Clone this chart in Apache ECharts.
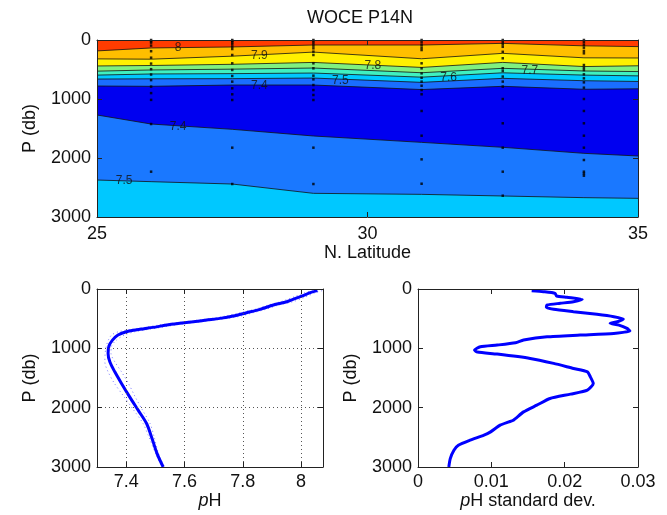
<!DOCTYPE html>
<html><head><meta charset="utf-8">
<script src="https://cdn.jsdelivr.net/npm/echarts@6/dist/echarts.min.js"></script>
<style>html,body{margin:0;padding:0;background:#fff}#c{width:667px;height:515px}</style>
</head><body><div id="c"></div><script>
// ---------- DATA ----------
const titleText = 'WOCE P14N';
// Section: contour boundaries (pressure, db) at latitudes
const boundaryLats = [25, 26, 27.5, 29, 31, 32.5, 34, 35];
const iso80 = [185, 135, 118, 85, 85, 57, 99, 112];
const iso79 = [320, 325, 274, 205, 318, 226, 302, 305];
const iso78 = [440, 432, 412, 380, 465, 380, 450, 437];
const iso77 = [528, 508, 494, 475, 555, 480, 525, 535];
const iso76 = [595, 576, 570, 560, 630, 556, 595, 608];
const iso75 = [662, 658, 655, 645, 718, 650, 690, 703];
const iso74 = [780, 785, 763, 763, 840, 785, 835, 827];
const iso74deep = [1271, 1424, 1514, 1627, 1735, 1819, 1921, 1966];
const iso75deep = [2373, 2401, 2441, 2599, 2616, 2644, 2672, 2684];
// contour labels: [lat, pressure, text]
const contourLabels = [
  [26.5, 124, '8'], [28.0, 271, '7.9'], [30.1, 441, '7.8'], [33.0, 520, '7.7'],
  [31.5, 639, '7.6'], [29.5, 690, '7.5'], [28.0, 780, '7.4'],
  [26.5, 1470, '7.4'], [25.5, 2390, '7.5']
];
// Station sample positions
const stationLats = [26, 27.5, 29, 31, 32.5, 34];
const stationDepths = [
  [0, 20, 45, 95, 190, 300, 400, 495, 585, 680, 790, 900, 1015, 1424, 2232],
  [0, 17, 40, 73, 113, 153, 254, 395, 508, 610, 706, 819, 920, 1017, 1825, 2441],
  [0, 17, 56, 96, 141, 198, 254, 395, 480, 605, 667, 763, 848, 932, 1017, 1825, 2441],
  [0, 40, 85, 130, 170, 395, 480, 565, 640, 706, 775, 848, 920, 1203, 1622, 2023, 2436],
  [0, 40, 75, 115, 200, 310, 480, 525, 620, 705, 790, 1000, 1412, 1825, 2232, 2639],
  [0, 40, 85, 130, 186, 226, 424, 470, 510, 582, 650, 718, 808, 1000, 1203, 1412, 1622, 1825, 2034, 2232, 2265, 2300]
];
// Mean pH profile
const phDepth = [28, 62, 130, 214, 270, 343, 400, 456, 495, 523, 552, 579, 608, 647, 680, 721, 776, 861, 962, 1085, 1227, 1396, 1592, 1818, 2042, 2267, 2493, 2774, 3000];
const phMean = [8.056, 8.031, 7.997, 7.951, 7.905, 7.859, 7.813, 7.767, 7.722, 7.676, 7.630, 7.584, 7.539, 7.492, 7.447, 7.401, 7.372, 7.353, 7.341, 7.338, 7.344, 7.361, 7.384, 7.412, 7.441, 7.470, 7.487, 7.506, 7.527];
const phLow = [8.040, 8.013, 7.977, 7.930, 7.887, 7.841, 7.791, 7.741, 7.694, 7.649, 7.603, 7.558, 7.512, 7.464, 7.418, 7.373, 7.350, 7.339, 7.332, 7.328, 7.327, 7.338, 7.360, 7.393, 7.426, 7.458, 7.478, 7.501, 7.523];
const phHigh = [8.072, 8.049, 8.017, 7.972, 7.923, 7.878, 7.835, 7.793, 7.750, 7.703, 7.657, 7.610, 7.566, 7.520, 7.476, 7.429, 7.394, 7.367, 7.350, 7.348, 7.361, 7.384, 7.408, 7.431, 7.456, 7.482, 7.496, 7.511, 7.531];
// pH standard deviation profile
const sdDepth = [28, 45, 73, 118, 140, 174, 214, 241, 270, 309, 343, 383, 427, 467, 506, 552, 579, 608, 664, 709, 748, 776, 805, 861, 906, 945, 974, 1030, 1063, 1097, 1170, 1254, 1339, 1396, 1480, 1592, 1705, 1772, 1845, 1958, 2071, 2211, 2239, 2295, 2408, 2464, 2548, 2633, 2717, 2858, 3000];
const sdVal = [0.0155, 0.0171, 0.0187, 0.0189, 0.0203, 0.0224, 0.0212, 0.0194, 0.0176, 0.0175, 0.0185, 0.0212, 0.0244, 0.0267, 0.0280, 0.0272, 0.0262, 0.0274, 0.0285, 0.0289, 0.0267, 0.0221, 0.0176, 0.0144, 0.0133, 0.0108, 0.0085, 0.0077, 0.0081, 0.0108, 0.0153, 0.0185, 0.0212, 0.0231, 0.0235, 0.0239, 0.0231, 0.0208, 0.0180, 0.0162, 0.0144, 0.0130, 0.0124, 0.0112, 0.0099, 0.0090, 0.0071, 0.0055, 0.0049, 0.0044, 0.0042];
// Tick values
const latTicks = [25, 30, 35];
const pTicks = [0, 1000, 2000, 3000];
const phTicks = [7.4, 7.6, 7.8, 8];
const sdTicks = [0, 0.01, 0.02, 0.03];

// ---------- STYLE ----------
const FONT = '"Liberation Sans", Arial, Helvetica, sans-serif';
const FS = 18;
const AX = '#222';
const isoList = [iso80, iso79, iso78, iso77, iso76, iso75, iso74, iso74deep, iso75deep];
const layerColors = ['#ffbf00', '#fff000', '#80f080', '#40f0c0', '#00c8ff', '#1a6eff', '#0000f0', '#1a78ff', '#00c8ff'];
const topColor = '#ff3c00';
const plain = function (v) { return String(v); };

function mkX(grid, min, max, interval, opts) {
  const base = {
    gridIndex: grid, type: 'value', min: min, max: max, z: 10,
    axisLine: {show: true, onZero: false, lineStyle: {color: AX, width: 1}},
    axisTick: {show: true, inside: true, length: 5, lineStyle: {color: AX}},
    axisLabel: {show: true, color: '#111', fontSize: FS, fontFamily: FONT, margin: 8, formatter: plain},
    splitLine: {show: false}
  };
  if (interval) base.interval = interval;
  return Object.assign(base, opts || {});
}
function mkY(grid, opts) {
  return Object.assign({
    gridIndex: grid, type: 'value', inverse: true, min: 0, max: 3000, interval: 1000, z: 10,
    axisLine: {show: true, onZero: false, lineStyle: {color: AX, width: 1}},
    axisTick: {show: true, inside: true, length: 5, lineStyle: {color: AX}},
    axisLabel: {show: true, color: '#111', fontSize: FS, fontFamily: FONT, margin: 6, formatter: plain},
    splitLine: {show: false},
    name: 'P (db)', nameLocation: 'middle', nameGap: 58, nameRotate: 90,
    nameTextStyle: {color: '#111', fontSize: FS, fontFamily: FONT}
  }, opts || {});
}
const hiddenLabel = {show: false};
const dotted = {show: true, lineStyle: {color: '#555', type: [1, 3], width: 1}};

const xAxes = [
  mkX(0, 25, 35, 5, {position: 'bottom', name: 'N. Latitude', nameLocation: 'middle', nameGap: 26,
     nameTextStyle: {color: '#111', fontSize: FS, fontFamily: FONT}}),
  mkX(0, 25, 35, 5, {position: 'top', axisLabel: hiddenLabel}),
  mkX(1, 7.3, 8.075, null, {position: 'bottom',
     axisLabel: {show: true, color: '#111', fontSize: FS, fontFamily: FONT, margin: 6, customValues: phTicks, formatter: plain},
     axisTick: {show: true, inside: true, length: 5, lineStyle: {color: AX}, customValues: phTicks},
     splitLine: dotted,
     name: '{i|p}H', nameLocation: 'middle', nameGap: 24,
     nameTextStyle: {color: '#111', fontSize: FS, fontFamily: FONT, rich: {i: {fontStyle: 'italic', fontSize: FS, fontFamily: FONT, color: '#111'}}}}),
  mkX(1, 7.3, 8.075, null, {position: 'top', axisLabel: {show: false, customValues: phTicks},
     axisTick: {show: true, inside: true, length: 5, lineStyle: {color: AX}, customValues: phTicks}}),
  mkX(2, 0, 0.03, 0.01, {position: 'bottom',
     axisLabel: {show: true, color: '#111', fontSize: FS, fontFamily: FONT, margin: 6, formatter: plain},
     name: '{i|p}H standard dev.', nameLocation: 'middle', nameGap: 24,
     nameTextStyle: {color: '#111', fontSize: FS, fontFamily: FONT, rich: {i: {fontStyle: 'italic', fontSize: FS, fontFamily: FONT, color: '#111'}}}}),
  mkX(2, 0, 0.03, 0.01, {position: 'top', axisLabel: hiddenLabel})
];
const yAxes = [
  mkY(0, {position: 'left'}),
  mkY(0, {position: 'right', axisLabel: hiddenLabel, name: ''}),
  mkY(1, {position: 'left', splitLine: dotted}),
  mkY(1, {position: 'right', axisLabel: hiddenLabel, name: ''}),
  mkY(2, {position: 'left'}),
  mkY(2, {position: 'right', axisLabel: hiddenLabel, name: ''})
];

const series = [];
isoList.forEach(function (iso, i) {
  series.push({
    type: 'line', xAxisIndex: 0, yAxisIndex: 0, silent: true, animation: false,
    data: boundaryLats.map(function (lat, j) { return [lat, iso[j]]; }),
    symbol: 'none', z: 2,
    lineStyle: {color: '#111', width: 0.8},
    areaStyle: {color: layerColors[i], opacity: 1, origin: 'end'}
  });
});
const dots = [];
stationLats.forEach(function (lat, i) {
  stationDepths[i].forEach(function (d) { dots.push([lat, d]); });
});
series.push({
  type: 'scatter', xAxisIndex: 0, yAxisIndex: 0, silent: true, animation: false, z: 3,
  symbol: 'rect', symbolSize: 2.5, itemStyle: {color: '#000'}, data: dots
});
series.push({
  type: 'scatter', xAxisIndex: 0, yAxisIndex: 0, silent: true, animation: false, z: 4,
  symbolSize: 1, itemStyle: {color: 'transparent'},
  data: contourLabels.map(function (c) { return {value: [c[0], c[1]], name: c[2]}; }),
  label: {show: true, position: 'inside', formatter: '{b}', color: '#111', fontSize: 12, fontFamily: FONT}
});
// pH profile
series.push({
  type: 'line', xAxisIndex: 2, yAxisIndex: 2, silent: true, animation: false, z: 2, smooth: 0.3,
  symbol: 'none', lineStyle: {color: '#7a7aff', width: 1, type: [1, 3]},
  data: phDepth.map(function (d, i) { return [phLow[i], d]; })
});
series.push({
  type: 'line', xAxisIndex: 2, yAxisIndex: 2, silent: true, animation: false, z: 2, smooth: 0.3,
  symbol: 'none', lineStyle: {color: '#7a7aff', width: 1, type: [1, 3]},
  data: phDepth.map(function (d, i) { return [phHigh[i], d]; })
});
series.push({
  type: 'line', xAxisIndex: 2, yAxisIndex: 2, silent: true, animation: false, z: 3, smooth: 0.3,
  symbol: 'none', lineStyle: {color: '#0000ff', width: 3},
  data: phDepth.map(function (d, i) { return [phMean[i], d]; })
});
// standard deviation profile
series.push({
  type: 'line', xAxisIndex: 4, yAxisIndex: 4, silent: true, animation: false, z: 3, smooth: 0.2,
  symbol: 'none', lineStyle: {color: '#0000ff', width: 3},
  data: sdDepth.map(function (d, i) { return [sdVal[i], d]; })
});

const chart = echarts.init(document.getElementById('c'), null, {renderer: 'canvas'});
chart.setOption({
  animation: false,
  backgroundColor: '#fff',
  textStyle: {fontFamily: FONT},
  grid: [
    {left: 97, top: 40, width: 541, height: 177, show: true, backgroundColor: topColor, borderWidth: 0},
    {left: 97, top: 289, width: 226, height: 178, show: true, backgroundColor: '#fff', borderWidth: 0},
    {left: 418, top: 289, width: 220, height: 178, show: true, backgroundColor: '#fff', borderWidth: 0}
  ],
  xAxis: xAxes,
  yAxis: yAxes,
  series: series,
  graphic: [{
    type: 'text', left: 367 - 60, top: 9, z: 20,
    style: {text: titleText, fill: '#111', font: FS + 'px ' + FONT, width: 120, align: 'center'}
  }]
});
</script></body></html>
